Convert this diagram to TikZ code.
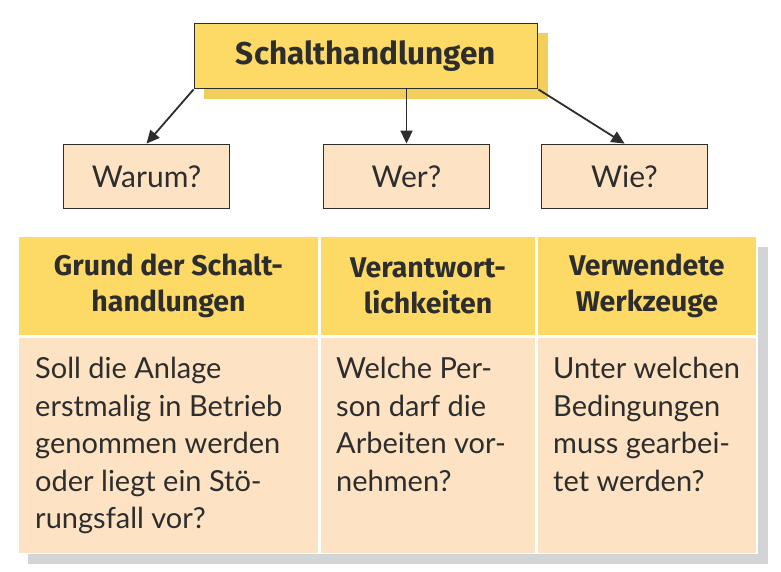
\documentclass[tikz,border=0pt]{standalone}
\usepackage{fontspec}
\setmainfont{Lato}
\newfontfamily\headfont{Fira Sans}
\usetikzlibrary{arrows.meta}
\definecolor{ink}{HTML}{2D2D2D}
\definecolor{gold}{HTML}{FDDA66}
\definecolor{goldshade}{HTML}{F2CF5C}
\definecolor{peach}{HTML}{FDE3C4}
\definecolor{greyshade}{HTML}{D3D4D6}
\begin{document}
\begin{tikzpicture}[x=1pt,y=-1pt,
  every node/.style={inner sep=0pt, text=ink},
  titlebox/.style={draw=ink, line width=1.8pt, fill=gold, minimum width=343pt, minimum height=65pt,
    font=\headfont\fontsize{31.5}{36}\selectfont\bfseries},
  askbox/.style={draw=ink, line width=1.8pt, fill=peach, minimum width=166pt, minimum height=64pt,
    font=\fontsize{30}{34}\selectfont},
  headcell/.style={fill=gold, minimum height=98pt, align=center,
    font=\headfont\fontsize{28.5}{36.5}\selectfont\bfseries},
  bodycell/.style={fill=peach, minimum height=215pt},
  bodytext/.style={anchor=north west, align=left, font=\fontsize{29}{37.5}\selectfont},
  link/.style={draw=ink, line width=1.8pt, -{Triangle[length=13pt,width=12pt]}}
]
\useasboundingbox (0,0) rectangle (781,572);

% title box with its offset shade
\fill[goldshade] (204,33) rectangle (548,99);
\node[titlebox] (title) at (366,56) {Schalthandlungen};

% question boxes
\node[askbox] (warum) at (146.5,176.5) {Warum?};
\node[askbox] (wer)   at (406.5,176.5) {Wer?};
\node[askbox] (wie)   at (624.5,176.5) {Wie?};

\draw[link] (title.south west) -- (warum.north);
\draw[link] (title.south -| wer.north) -- (wer.north);
\draw[link] (title.south east) -- (wie.north);

% table: grey shade, white ground, cells
\fill[greyshade] (28,247) rectangle (768,564);
\fill[white] (17,235) rectangle (758,554);

\node[headcell, minimum width=299pt] (h1) at (168.5,286) {Grund der Schalt-\\handlungen};
\node[headcell, minimum width=214pt] (h2) at (428,286) {Verantwort-\\lichkeiten};
\node[headcell, minimum width=218pt] (h3) at (647,286) {Verwendete\\Werkzeuge};

\node[bodycell, minimum width=299pt] (b1) at (168.5,445) {};
\node[bodycell, minimum width=214pt] (b2) at (428,445) {};
\node[bodycell, minimum width=218pt] (b3) at (647,445) {};

\node[bodytext] (t1) at (35,357) {Soll die Anlage\\erstmalig in Betrieb\\genommen werden\\oder liegt ein Stö-\\rungsfall vor?};
\node[bodytext] (t2) at (336,357) {Welche Per-\\son darf die\\Arbeiten vor-\\nehmen?};
\node[bodytext] (t3) at (553,357) {Unter welchen\\Bedingungen\\muss gearbei-\\tet werden?};
\end{tikzpicture}
\end{document}
